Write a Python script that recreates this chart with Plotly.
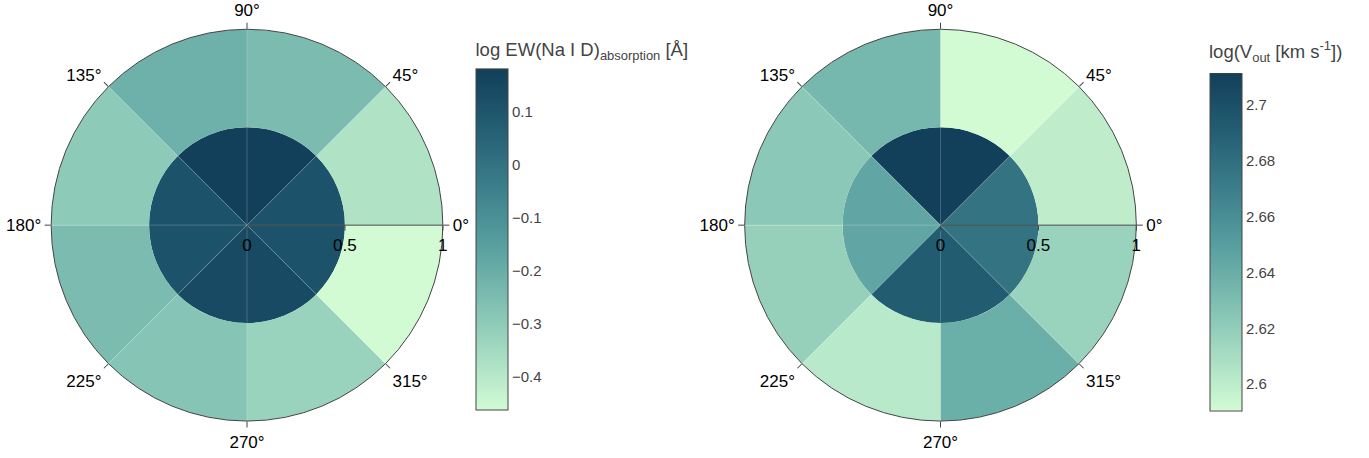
import plotly.graph_objects as go

# Ring geometry
inner_ring = (0.0, 0.5)   # base, outer edge
outer_ring = (0.5, 1.0)

# Inner ring: quadrants centred on 0, 90, 180, 270 degrees
quadrant_centers = [0, 90, 180, 270]
quadrant_width = 90
# Outer ring: octants between the 45-degree spokes
octant_centers = [22.5, 67.5, 112.5, 157.5, 202.5, 247.5, 292.5, 337.5]
octant_width = 45

# log EW(Na I D) absorption [Angstrom]
ew_inner = [0.11, 0.180, 0.11, 0.14]
ew_outer = [-0.382, -0.25, -0.213, -0.296, -0.25, -0.276, -0.327, -0.462]
ew_range = [-0.4625, 0.180]
ew_ticks = [-0.4, -0.3, -0.2, -0.1, 0, 0.1]
ew_ticktext = ["\u22120.4", "\u22120.3", "\u22120.2", "\u22120.1", "0", "0.1"]

# log outflow velocity [km/s]
vout_inner = [2.677, 2.7112, 2.6446, 2.692]
vout_outer = [2.599, 2.5905, 2.633, 2.623, 2.618, 2.602, 2.639, 2.616]
vout_range = [2.5905, 2.7112]
vout_ticks = [2.6, 2.62, 2.64, 2.66, 2.68, 2.7]

spoke_angles = [0, 45, 90, 135, 180, 225, 270, 315]
radial_ticks = [0, 0.5, 1]

DARKMINT = ['#d2fbd4', '#a5dbc2', '#7bbcb0', '#559c9e', '#3a7c89', '#235d72', '#123f5a']
FONT = "Liberation Sans, Arial, sans-serif"
SPOKE_COLOR = "rgba(255,255,255,0.2)"


def ring_traces(inner_vals, outer_vals, subplot, caxis):
    traces = []
    rings = (
        (inner_ring, quadrant_centers, quadrant_width, inner_vals),
        (outer_ring, octant_centers, octant_width, outer_vals),
    )
    for (base, top), centers, width, vals in rings:
        n = len(centers)
        traces.append(go.Barpolar(
            theta=centers,
            r=[top - base] * n,
            base=[base] * n,
            width=[width] * n,
            marker=dict(color=vals, coloraxis=caxis, line=dict(width=0)),
            subplot=subplot,
            showlegend=False,
            hoverinfo="skip",
        ))
    # faint spokes drawn over the sectors every 45 degrees
    for ang in spoke_angles:
        traces.append(go.Scatterpolar(
            theta=[ang, ang], r=[inner_ring[0], outer_ring[1]],
            mode="lines", line=dict(color=SPOKE_COLOR, width=1),
            subplot=subplot, showlegend=False, hoverinfo="skip",
        ))
    return traces


fig = go.Figure()
for tr in ring_traces(ew_inner, ew_outer, "polar", "coloraxis"):
    fig.add_trace(tr)
for tr in ring_traces(vout_inner, vout_outer, "polar2", "coloraxis2"):
    fig.add_trace(tr)

W, H = 1369, 458


def polar_layout(x0, x1):
    return dict(
        domain=dict(x=[x0 / W, x1 / W], y=[(H - 421) / H, (H - 29.3) / H]),
        bgcolor="white",
        angularaxis=dict(
            rotation=0, direction="counterclockwise",
            tickmode="linear", tick0=0, dtick=45,
            ticks="outside", ticklen=6, tickcolor="#444",
            showline=True, linecolor="#444", linewidth=1,
            showgrid=False,
            tickfont=dict(family=FONT, size=17, color="black"),
        ),
        radialaxis=dict(
            range=[0, 1], tickmode="array", tickvals=radial_ticks,
            angle=0, showline=True, linecolor="#444", linewidth=1,
            ticks="outside", ticklen=5, tickcolor="#444",
            showgrid=False,
            tickfont=dict(family=FONT, size=17, color="black"),
        ),
    )


def colorbar(title, x_px, top_px, bottom_px, title_space, tickvals, ticktext=None):
    cb = dict(
        title=dict(text=title, side="top", font=dict(family=FONT, size=18.5, color="#444")),
        x=x_px / W, xanchor="left", xpad=0,
        y=(H - bottom_px) / H, yanchor="bottom", ypad=0,
        len=bottom_px - top_px + title_space, lenmode="pixels",
        thickness=32, outlinewidth=1, outlinecolor="#444",
        ticks="", tickmode="array", tickvals=tickvals,
        tickfont=dict(family=FONT, size=15, color="#444"),
    )
    if ticktext is not None:
        cb["ticktext"] = ticktext
    return cb


fig.update_layout(
    width=W, height=H,
    margin=dict(l=0, r=0, t=0, b=0),
    paper_bgcolor="white",
    font=dict(family=FONT, color="#444"),
    polar=polar_layout(50.7, 443.3),
    polar2=polar_layout(744.3, 1136.7),
    coloraxis=dict(
        colorscale=DARKMINT, cmin=ew_range[0], cmax=ew_range[1],
        colorbar=colorbar("log EW(Na I D)<sub>absorption</sub> [Å]", 476, 69, 410, 29,
                          ew_ticks, ew_ticktext),
    ),
    coloraxis2=dict(
        colorscale=DARKMINT, cmin=vout_range[0], cmax=vout_range[1],
        colorbar=colorbar("log(V<sub>out</sub> [km s<sup>-1</sup>])", 1209.5, 72.7, 410.7, 31,
                          vout_ticks),
    ),
)

fig.write_html("out.html")
